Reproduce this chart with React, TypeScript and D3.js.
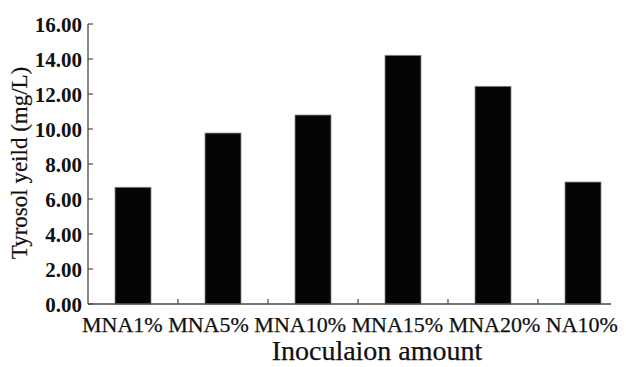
import React from "react";
import * as d3 from "d3";

const categories = ["MNA1%", "MNA5%", "MNA10%", "MNA15%", "MNA20%", "NA10%"];
const yieldValues = [6.67, 9.77, 10.8, 14.21, 12.44, 6.97];
const yTicks = [0, 2, 4, 6, 8, 10, 12, 14, 16];

const W = 626;
const H = 367;
const left = 88;
const top = 24;
const bottom = 304;
const axisEnd = 611;

const FONT = "'Liberation Serif', 'Times New Roman', serif";

export default function App() {
  const x = d3
    .scaleBand<string>()
    .domain(categories)
    .range([left, left + 540])
    .paddingInner(0.6)
    .paddingOuter(0.3);
  const y = d3.scaleLinear().domain([0, 16]).range([bottom, top]);

  // category boundary ticks: midway between neighbouring bars
  const boundaryTicks = categories
    .slice(1)
    .map((c, i) => ((x(categories[i]) as number) + x.bandwidth() + (x(c) as number)) / 2);

  const axisColor = "#4a4a4a";

  return (
    <div style={{ position: "fixed", left: 0, top: 0 }}>
      <svg width={W} height={H} style={{ display: "block", background: "#fff" }}>
        {/* bars */}
        {categories.map((c, i) => (
          <rect
            key={c}
            x={x(c)}
            y={y(yieldValues[i])}
            width={x.bandwidth()}
            height={bottom - y(yieldValues[i])}
            fill="#050505"
            stroke="#8a8a8a"
            strokeWidth={0.8}
          />
        ))}

        {/* y axis */}
        <line x1={left} x2={left} y1={top} y2={bottom} stroke={axisColor} strokeWidth={1.3} />
        {yTicks.map((t) => (
          <g key={t}>
            <line x1={left} x2={left + 5} y1={y(t)} y2={y(t)} stroke={axisColor} strokeWidth={1.2} />
            <text
              x={left - 6}
              y={y(t)}
              dy="0.36em"
              textAnchor="end"
              style={{ fontFamily: FONT }}
              fontWeight="bold"
              fontSize={21}
              fill="#111"
            >
              {d3.format(".2f")(t)}
            </text>
          </g>
        ))}

        {/* x axis */}
        <line x1={left} x2={axisEnd} y1={bottom} y2={bottom} stroke={axisColor} strokeWidth={1.3} />
        {boundaryTicks.map((bx, i) => (
          <line key={i} x1={bx} x2={bx} y1={bottom} y2={bottom - 5} stroke={axisColor} strokeWidth={1.2} />
        ))}

        {/* category labels set as one run of text */}
        <text
          x={left - 6}
          y={332}
          style={{ fontFamily: FONT }}
          fontSize={22}
          fill="#111"
          stroke="#111"
          strokeWidth={0.25}
        >
          {categories.join(" ")}
        </text>

        {/* axis titles */}
        <text
          x={377}
          y={360}
          textAnchor="middle"
          style={{ fontFamily: FONT }}
          fontSize={28}
          fill="#111"
          stroke="#111"
          strokeWidth={0.25}
        >
          Inoculaion amount
        </text>
        <text
          transform="translate(27,163) rotate(-90)"
          textAnchor="middle"
          style={{ fontFamily: FONT }}
          fontSize={23}
          fill="#111"
          stroke="#111"
          strokeWidth={0.2}
        >
          Tyrosol yeild (mg/L)
        </text>
      </svg>
    </div>
  );
}
